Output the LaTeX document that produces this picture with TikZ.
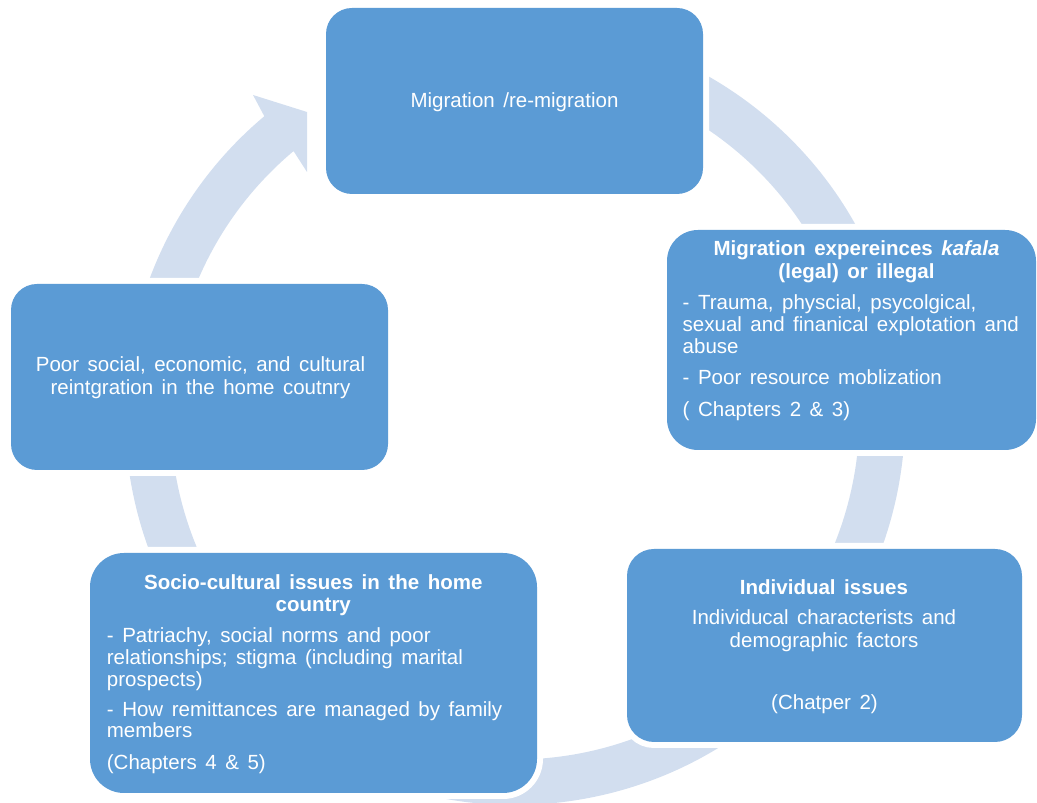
\documentclass[tikz,border=0pt]{standalone}
\usepackage{fontspec}
\setmainfont{Liberation Sans}[WordSpace=1.5]
\usetikzlibrary{calc}
\definecolor{boxblue}{RGB}{91,155,213}
\definecolor{ringblue}{RGB}{210,222,239}
\tikzset{
  box/.style={rectangle, rounded corners=#1, fill=boxblue,
    preaction={draw=white, line width=12pt}, inner sep=0pt},
  txt/.style={text=white, font=\fontsize{20.5}{22.5}\selectfont, inner sep=0pt},
  ctxt/.style={txt, anchor=base},
  ltxt/.style={txt, anchor=base west},
}
\begin{document}
\begin{tikzpicture}[x=1pt,y=1pt]
\useasboundingbox (0,0) rectangle (1037,803);
\clip (0,0) rectangle (1037,803);
% ring arrow
\coordinate (c) at (515,388);
\fill[ringblue] ($(c)+(130:390)$) -- (253,708) -- (307,691) -- (307,631)
  -- ($(c)+(130:344.5)$) arc[start angle=130, end angle=460, radius=344.5pt]
  -- ($(c)+(460:390)$) arc[start angle=460, end angle=130, radius=390pt] -- cycle;
% boxes
\node[box=26pt, minimum width=377pt, minimum height=186pt] (b1) at (514.5,702) {};
\node[box=31pt, minimum width=369pt, minimum height=220pt] (b2) at (851.5,463) {};
\node[box=27pt, minimum width=395pt, minimum height=193pt] (b3) at (824.5,157.5) {};
\node[box=34pt, minimum width=447pt, minimum height=240pt] (b4) at (313.5,130) {};
\node[box=26pt, minimum width=377pt, minimum height=186pt] (b5) at (199.5,426) {};
% box 1
\node[ctxt] (t1) at (514.5,695) {Migration /re-migration};
% box 2
\node[ctxt] (t2a) at (856.5,547) {\textbf{Migration expereinces \textit{kafala}}};
\node[ctxt] (t2b) at (856.5,524.7) {\textbf{(legal) or illegal}};
\node[ltxt] (t2c) at (682.5,493) {- Trauma, physcial, psycolgical,};
\node[ltxt] (t2d) at (682.5,471.3) {sexual and finanical explotation and};
\node[ltxt] (t2e) at (682.5,449.7) {abuse};
\node[ltxt] (t2f) at (682.5,418) {- Poor resource moblization};
\node[ltxt] (t2g) at (682.5,386.3) {( Chapters 2 \& 3)};
% box 3
\node[ctxt] (t3a) at (824,208.7) {\textbf{Individual issues}};
\node[ctxt] (t3b) at (824,178) {Individucal characterists and};
\node[ctxt] (t3c) at (824,155.7) {demographic factors};
\node[ctxt] (t3d) at (824.5,93) {(Chatper 2)};
% box 4
\node[ctxt] (t4a) at (313.3,213.7) {\textbf{Socio-cultural issues in the home}};
\node[ctxt] (t4b) at (313.3,191.3) {\textbf{country}};
\node[ltxt] (t4c) at (106.7,160.3) {- Patriachy, social norms and poor};
\node[ltxt] (t4d) at (106.7,138) {relationships; stigma (including marital};
\node[ltxt] (t4e) at (106.7,116.3) {prospects)};
\node[ltxt] (t4f) at (106.7,86.3) {- How remittances are managed by family};
\node[ltxt] (t4g) at (106.7,65.3) {members};
\node[ltxt] (t4h) at (106.7,33) {(Chapters 4 \& 5)};
% box 5
\node[ctxt] (t5a) at (200.5,431) {Poor social, economic, and cultural};
\node[ctxt] (t5b) at (200.5,408.5) {reintgration in the home coutnry};
\end{tikzpicture}
\end{document}
